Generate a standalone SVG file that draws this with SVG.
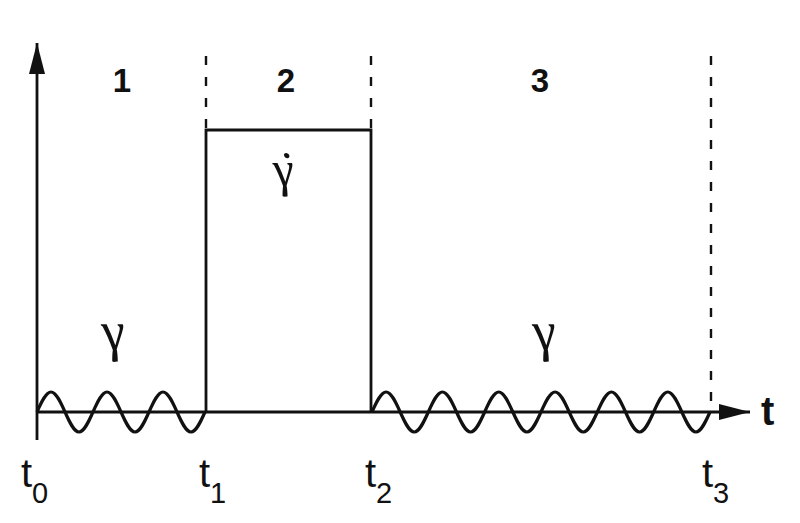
<svg xmlns="http://www.w3.org/2000/svg" width="800" height="523" viewBox="0 0 800 523">
<style>
.ln{stroke:#111;stroke-width:2.8;fill:none}
.dash{stroke:#111;stroke-width:2.4;fill:none;stroke-dasharray:9 12}
.wave{stroke:#111;stroke-width:3.2;fill:none}
.num{font-family:"Liberation Sans",Arial,sans-serif;font-weight:bold;font-size:33px;fill:#111;text-anchor:middle}
.lab{font-family:"Liberation Sans",Arial,sans-serif;font-size:40px;fill:#111}
.sub{font-family:"Liberation Sans",Arial,sans-serif;font-size:29px;fill:#111}
.gam{font-family:"Liberation Serif","Times New Roman",serif;font-style:italic;font-size:56px;fill:#111}
</style>
<defs>
<marker id="ah" viewBox="0 0 31 16" refX="31" refY="8" markerWidth="31" markerHeight="16" markerUnits="userSpaceOnUse" orient="auto">
<path d="M0 0 L31 8 L0 16 Z" fill="#111"/>
</marker>
</defs>
<rect width="800" height="523" fill="#fff"/>
<g id="connectors">
<line id="y-axis" class="ln" x1="37" y1="440" x2="37" y2="43" marker-end="url(#ah)"/>
<line id="t-axis" class="ln" x1="37" y1="412" x2="750" y2="412" marker-end="url(#ah)"/>
<line class="dash" x1="206" y1="56" x2="206" y2="130"/>
<line class="dash" x1="371" y1="56" x2="371" y2="130"/>
<line class="dash" x1="711" y1="56" x2="711" y2="412"/>
</g>
<g id="pulse">
<path class="ln" d="M206 412 V130 H371 V412"/>
</g>
<g id="wave-1">
<path class="wave" d="M37 412 c 4.57 -10.25 8.93 -20 14 -20 s 9.43 9.75 14 20 s 8.93 20 14 20 s 9.43 -9.75 14 -20 s 8.93 -20 14 -20 s 9.43 9.75 14 20 s 8.93 20 14 20 s 9.43 -9.75 14 -20 s 8.93 -20 14 -20 s 9.43 9.75 14 20 s 8.93 20 14 20 s 9.43 -9.75 14 -20"/>
</g>
<g id="wave-3">
<path class="wave" transform="translate(372 412) scale(1.006 1)" d="M0 0 c 4.57 -10.25 8.93 -20 14 -20 s 9.43 9.75 14 20 s 8.93 20 14 20 s 9.43 -9.75 14 -20 s 8.93 -20 14 -20 s 9.43 9.75 14 20 s 8.93 20 14 20 s 9.43 -9.75 14 -20 s 8.93 -20 14 -20 s 9.43 9.75 14 20 s 8.93 20 14 20 s 9.43 -9.75 14 -20 s 8.93 -20 14 -20 s 9.43 9.75 14 20 s 8.93 20 14 20 s 9.43 -9.75 14 -20 s 8.93 -20 14 -20 s 9.43 9.75 14 20 s 8.93 20 14 20 s 9.43 -9.75 14 -20 s 8.93 -20 14 -20 s 9.43 9.75 14 20 s 8.93 20 14 20 s 9.43 -9.75 14 -20"/>
</g>
<g id="region-labels">
<text class="num" x="122" y="92">1</text>
<text class="num" x="286" y="92">2</text>
<text class="num" x="540" y="92">3</text>
</g>
<g id="gamma-labels">
<text class="gam" transform="translate(117 350) skewX(14)" text-anchor="middle">γ</text>
<text class="gam" transform="translate(548 350) skewX(14)" text-anchor="middle">γ</text>
<text class="gam" transform="translate(289 186) skewX(14)" style="font-size:50px" x="-12">γ<tspan dx="-14" dy="0">˙</tspan></text>
</g>
<g id="time-labels">
<text class="lab" x="761" y="425" font-weight="bold">t</text>
<text class="lab" x="21" y="487">t</text><text class="sub" x="32" y="503">0</text>
<text class="lab" x="199" y="487">t</text><text class="sub" x="210" y="503">1</text>
<text class="lab" x="365" y="487">t</text><text class="sub" x="376" y="503">2</text>
<text class="lab" x="702" y="487">t</text><text class="sub" x="713" y="503">3</text>
</g>
</svg>
